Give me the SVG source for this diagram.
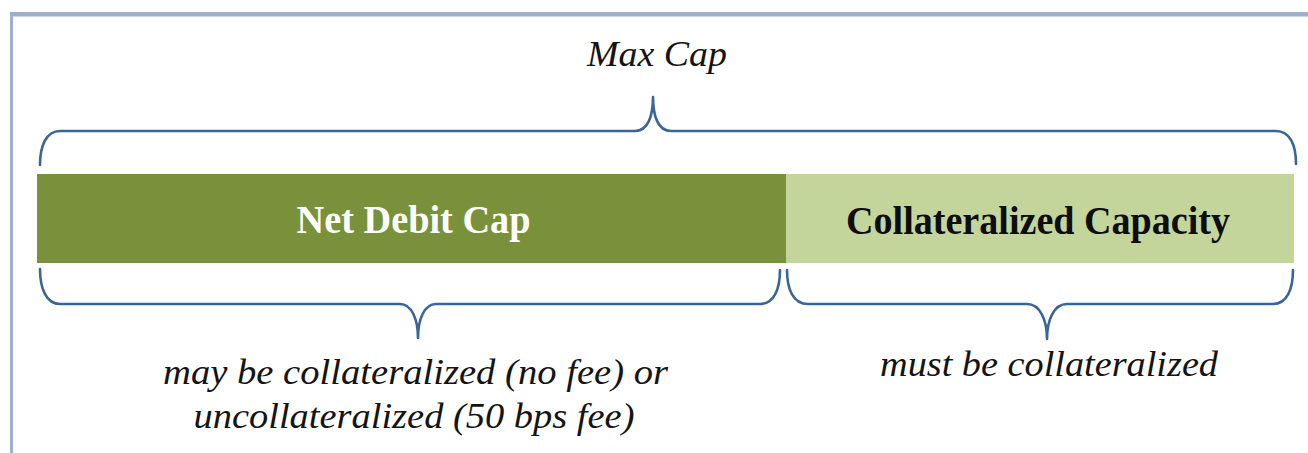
<svg xmlns="http://www.w3.org/2000/svg" width="1308" height="453" viewBox="0 0 1308 453">
  <style>
    .frame { stroke: #9bb1cb; fill: none; }
    .brace { stroke: #3a6599; stroke-width: 2.6; fill: none; stroke-linecap: round; stroke-linejoin: round; }
    .label { font-family: "Liberation Serif", "Times New Roman", serif; font-style: italic; fill: #141414; }
    .bar-title { font-family: "Liberation Serif", "Times New Roman", serif; font-weight: bold; }
  </style>
  <rect width="1308" height="453" fill="#ffffff"/>

  <!-- frame edges -->
  <g id="frame">
    <line class="frame" x1="10" y1="14.3" x2="1308" y2="14.3" stroke-width="4.6"/>
    <line class="frame" x1="11.5" y1="12" x2="11.5" y2="453" stroke-width="3"/>
  </g>

  <!-- overall label -->
  <g id="max-cap">
    <text class="label" x="657" y="66" font-size="36" text-anchor="middle" textLength="140" lengthAdjust="spacingAndGlyphs">Max Cap</text>
  </g>

  <!-- segmented bar -->
  <g id="net-debit-cap">
    <rect x="37" y="174" width="749" height="89" fill="#79913b"/>
    <text class="bar-title" x="413.5" y="233" font-size="40" fill="#ffffff" text-anchor="middle" textLength="234" lengthAdjust="spacingAndGlyphs">Net Debit Cap</text>
  </g>
  <g id="collateralized-capacity">
    <rect x="786" y="174" width="508" height="89" fill="#c4d59c"/>
    <text class="bar-title" x="1038" y="234" font-size="40" fill="#0d0d0d" text-anchor="middle" textLength="384" lengthAdjust="spacingAndGlyphs">Collateralized Capacity</text>
  </g>

  <!-- braces -->
  <g id="connectors">
    <path class="brace" d="M40,165 C40,146 46,131 60,131 H635 C648,131 653,116 653,97 C653,116 658,131 671,131 H1276 C1290,131 1296,145 1296,164"/>
    <path class="brace" d="M40,269 C40,288 46,304 60,304 H400 C412,304 418,320 418,338 C418,320 424,304 436,304 H760 C774,304 780,289 780,270"/>
    <path class="brace" d="M787,270 C787,289 793,304 808,304 H1027 C1040,304 1047,320 1047,339 C1047,320 1054,304 1067,304 H1273 C1287,304 1293,289 1293,270"/>
  </g>

  <!-- annotations below the bar -->
  <g id="note-net-debit">
    <text class="label" x="415.5" y="384" font-size="36" text-anchor="middle" textLength="505" lengthAdjust="spacingAndGlyphs">may be collateralized (no fee) or</text>
    <text class="label" x="414" y="428" font-size="36" text-anchor="middle" textLength="441" lengthAdjust="spacingAndGlyphs">uncollateralized (50 bps fee)</text>
  </g>
  <g id="note-collateralized">
    <text class="label" x="1049" y="376" font-size="36" text-anchor="middle" textLength="338" lengthAdjust="spacingAndGlyphs">must be collateralized</text>
  </g>
</svg>
